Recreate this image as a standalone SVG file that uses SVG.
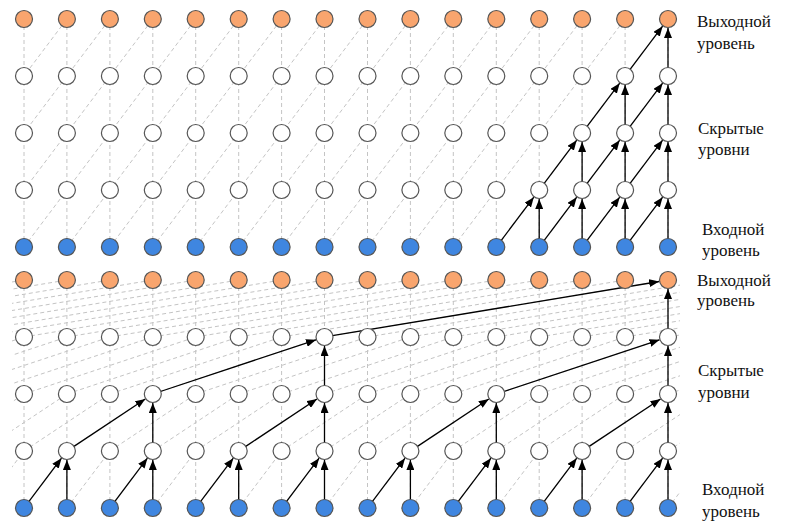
<svg xmlns="http://www.w3.org/2000/svg" width="800" height="531" viewBox="0 0 800 531">
<style>
.d{stroke:#c4c4c4;stroke-width:1;stroke-dasharray:4 3;fill:none}
.a{stroke:#000;stroke-width:1.3;fill:none;marker-end:url(#ah)}
.o{fill:#F9A56E;stroke:#555;stroke-width:1.2}
.h{fill:#fff;stroke:#555;stroke-width:1.2}
.i{fill:#3F86E0;stroke:#555;stroke-width:1.2}
.lb{font-family:"Liberation Serif","Times New Roman","DejaVu Serif",serif;font-size:17px;fill:#111}
</style>
<defs>
<marker id="ah" markerUnits="userSpaceOnUse" markerWidth="10" markerHeight="8" refX="10" refY="4" orient="auto"><path d="M0,0 L10,4 L0,8 z" fill="#000"/></marker>
<clipPath id="ct"><rect x="24" y="0" width="644" height="260"/></clipPath>
<clipPath id="cb"><rect x="12" y="270" width="668" height="250"/></clipPath>
</defs>
<g id="connectors">
<g id="dashed-top">
<path class="d" d="M24,19V247M66.9,19V247M109.9,19V247M152.8,19V247M195.7,19V247M238.7,19V247M281.6,19V247M324.5,19V247M367.5,19V247M410.4,19V247M453.3,19V247M496.3,19V247M539.2,19V247M582.1,19V247M625.1,19V247M668,19V247"/>
<path class="d" clip-path="url(#ct)" d="M-104.8,247l171.7,-228M-61.9,247l171.7,-228M-18.9,247l171.7,-228M24,247l171.7,-228M66.9,247l171.7,-228M109.9,247l171.7,-228M152.8,247l171.7,-228M195.7,247l171.7,-228M238.7,247l171.7,-228M281.6,247l171.7,-228M324.5,247l171.7,-228M367.5,247l171.7,-228M410.4,247l171.7,-228M453.3,247l171.7,-228M496.3,247l171.7,-228M539.2,247l171.7,-228M582.1,247l171.7,-228M625.1,247l171.7,-228"/>
</g>
<g id="dashed-bottom">
<path class="d" d="M24,280V508M66.9,280V508M109.9,280V508M152.8,280V508M195.7,280V508M238.7,280V508M281.6,280V508M324.5,280V508M367.5,280V508M410.4,280V508M453.3,280V508M496.3,280V508M539.2,280V508M582.1,280V508M625.1,280V508M668,280V508"/>
<path class="d" clip-path="url(#cb)" d="M-18.9,508l42.93,-57M24,508l42.93,-57M66.9,508l42.93,-57M109.9,508l42.93,-57M152.8,508l42.93,-57M195.7,508l42.93,-57M238.7,508l42.93,-57M281.6,508l42.93,-57M324.5,508l42.93,-57M367.5,508l42.93,-57M410.4,508l42.93,-57M453.3,508l42.93,-57M496.3,508l42.93,-57M539.2,508l42.93,-57M582.1,508l42.93,-57M625.1,508l42.93,-57M668,508l42.93,-57
M-61.9,451l85.87,-57M-18.9,451l85.87,-57M24,451l85.87,-57M66.9,451l85.87,-57M109.9,451l85.87,-57M152.8,451l85.87,-57M195.7,451l85.87,-57M238.7,451l85.87,-57M281.6,451l85.87,-57M324.5,451l85.87,-57M367.5,451l85.87,-57M410.4,451l85.87,-57M453.3,451l85.87,-57M496.3,451l85.87,-57M539.2,451l85.87,-57M582.1,451l85.87,-57M625.1,451l85.87,-57M668,451l85.87,-57
M-147.7,394l171.7,-57M-104.8,394l171.7,-57M-61.9,394l171.7,-57M-18.9,394l171.7,-57M24,394l171.7,-57M66.9,394l171.7,-57M109.9,394l171.7,-57M152.8,394l171.7,-57M195.7,394l171.7,-57M238.7,394l171.7,-57M281.6,394l171.7,-57M324.5,394l171.7,-57M367.5,394l171.7,-57M410.4,394l171.7,-57M453.3,394l171.7,-57M496.3,394l171.7,-57M539.2,394l171.7,-57M582.1,394l171.7,-57M625.1,394l171.7,-57M668,394l171.7,-57
M-319.5,337l343.5,-57M-276.5,337l343.5,-57M-233.6,337l343.5,-57M-190.7,337l343.5,-57M-147.7,337l343.5,-57M-104.8,337l343.5,-57M-61.9,337l343.5,-57M-18.9,337l343.5,-57M24,337l343.5,-57M66.9,337l343.5,-57M109.9,337l343.5,-57M152.8,337l343.5,-57M195.7,337l343.5,-57M238.7,337l343.5,-57M281.6,337l343.5,-57M324.5,337l343.5,-57M367.5,337l343.5,-57M410.4,337l343.5,-57M453.3,337l343.5,-57M496.3,337l343.5,-57M539.2,337l343.5,-57M582.1,337l343.5,-57M625.1,337l343.5,-57M668,337l343.5,-57"/>
</g>
<g id="arrows-top">
<path class="a" d="M501.1,240.6L533.8,197.2"/><path class="a" d="M544,240.6L576.7,197.2"/><path class="a" d="M586.9,240.6L619.7,197.2"/><path class="a" d="M629.9,240.6L662.6,197.2"/>
<path class="a" d="M539.2,239V199"/><path class="a" d="M582.1,239V199"/><path class="a" d="M625.1,239V199"/><path class="a" d="M668,239V199"/>
<path class="a" d="M544,183.6L576.7,140.2"/><path class="a" d="M586.9,183.6L619.7,140.2"/><path class="a" d="M629.9,183.6L662.6,140.2"/>
<path class="a" d="M582.1,182V142"/><path class="a" d="M625.1,182V142"/><path class="a" d="M668,182V142"/>
<path class="a" d="M586.9,126.6L619.7,83.2"/><path class="a" d="M629.9,126.6L662.6,83.2"/>
<path class="a" d="M625.1,125V85"/><path class="a" d="M668,125V85"/>
<path class="a" d="M629.9,69.6L662.6,26.2"/><path class="a" d="M668,68V28"/>
</g>
<g id="arrows-bottom">
<path class="a" d="M28.8,501.6L61.5,458.2"/><path class="a" d="M114.7,501.6L147.4,458.2"/><path class="a" d="M200.5,501.6L233.3,458.2"/><path class="a" d="M286.4,501.6L319.1,458.2"/><path class="a" d="M372.3,501.6L405,458.2"/><path class="a" d="M458.1,501.6L490.9,458.2"/><path class="a" d="M544,501.6L576.7,458.2"/><path class="a" d="M629.9,501.6L662.6,458.2"/>
<path class="a" d="M66.9,500V460"/><path class="a" d="M152.8,500V460"/><path class="a" d="M238.7,500V460"/><path class="a" d="M324.5,500V460"/><path class="a" d="M410.4,500V460"/><path class="a" d="M496.3,500V460"/><path class="a" d="M582.1,500V460"/><path class="a" d="M668,500V460"/>
<path class="a" d="M73.6,446.6L145.3,399"/><path class="a" d="M245.4,446.6L317,399"/><path class="a" d="M417.1,446.6L488.8,399"/><path class="a" d="M588.8,446.6L660.5,399"/>
<path class="a" d="M152.8,443V403"/><path class="a" d="M324.5,443V403"/><path class="a" d="M496.3,443V403"/><path class="a" d="M668,443V403"/>
<path class="a" d="M160.4,391.5L316,339.8"/><path class="a" d="M503.9,391.5L659.5,339.8"/>
<path class="a" d="M324.5,386V346"/><path class="a" d="M668,386V346"/>
<path class="a" d="M332.4,335.7L659.1,281.5"/><path class="a" d="M668,329V289"/>
</g>
</g>
<g id="nodes-top-output" class="o">
<circle id="t4_0" cx="24" cy="19" r="8.5"/><circle id="t4_1" cx="66.9" cy="19" r="8.5"/><circle id="t4_2" cx="109.9" cy="19" r="8.5"/><circle id="t4_3" cx="152.8" cy="19" r="8.5"/><circle id="t4_4" cx="195.7" cy="19" r="8.5"/><circle id="t4_5" cx="238.7" cy="19" r="8.5"/><circle id="t4_6" cx="281.6" cy="19" r="8.5"/><circle id="t4_7" cx="324.5" cy="19" r="8.5"/><circle id="t4_8" cx="367.5" cy="19" r="8.5"/><circle id="t4_9" cx="410.4" cy="19" r="8.5"/><circle id="t4_10" cx="453.3" cy="19" r="8.5"/><circle id="t4_11" cx="496.3" cy="19" r="8.5"/><circle id="t4_12" cx="539.2" cy="19" r="8.5"/><circle id="t4_13" cx="582.1" cy="19" r="8.5"/><circle id="t4_14" cx="625.1" cy="19" r="8.5"/><circle id="t4_15" cx="668" cy="19" r="8.5"/>
</g>
<g id="nodes-top-h3" class="h">
<circle id="t3_0" cx="24" cy="76" r="8.5"/><circle id="t3_1" cx="66.9" cy="76" r="8.5"/><circle id="t3_2" cx="109.9" cy="76" r="8.5"/><circle id="t3_3" cx="152.8" cy="76" r="8.5"/><circle id="t3_4" cx="195.7" cy="76" r="8.5"/><circle id="t3_5" cx="238.7" cy="76" r="8.5"/><circle id="t3_6" cx="281.6" cy="76" r="8.5"/><circle id="t3_7" cx="324.5" cy="76" r="8.5"/><circle id="t3_8" cx="367.5" cy="76" r="8.5"/><circle id="t3_9" cx="410.4" cy="76" r="8.5"/><circle id="t3_10" cx="453.3" cy="76" r="8.5"/><circle id="t3_11" cx="496.3" cy="76" r="8.5"/><circle id="t3_12" cx="539.2" cy="76" r="8.5"/><circle id="t3_13" cx="582.1" cy="76" r="8.5"/><circle id="t3_14" cx="625.1" cy="76" r="8.5"/><circle id="t3_15" cx="668" cy="76" r="8.5"/>
</g>
<g id="nodes-top-h2" class="h">
<circle id="t2_0" cx="24" cy="133" r="8.5"/><circle id="t2_1" cx="66.9" cy="133" r="8.5"/><circle id="t2_2" cx="109.9" cy="133" r="8.5"/><circle id="t2_3" cx="152.8" cy="133" r="8.5"/><circle id="t2_4" cx="195.7" cy="133" r="8.5"/><circle id="t2_5" cx="238.7" cy="133" r="8.5"/><circle id="t2_6" cx="281.6" cy="133" r="8.5"/><circle id="t2_7" cx="324.5" cy="133" r="8.5"/><circle id="t2_8" cx="367.5" cy="133" r="8.5"/><circle id="t2_9" cx="410.4" cy="133" r="8.5"/><circle id="t2_10" cx="453.3" cy="133" r="8.5"/><circle id="t2_11" cx="496.3" cy="133" r="8.5"/><circle id="t2_12" cx="539.2" cy="133" r="8.5"/><circle id="t2_13" cx="582.1" cy="133" r="8.5"/><circle id="t2_14" cx="625.1" cy="133" r="8.5"/><circle id="t2_15" cx="668" cy="133" r="8.5"/>
</g>
<g id="nodes-top-h1" class="h">
<circle id="t1_0" cx="24" cy="190" r="8.5"/><circle id="t1_1" cx="66.9" cy="190" r="8.5"/><circle id="t1_2" cx="109.9" cy="190" r="8.5"/><circle id="t1_3" cx="152.8" cy="190" r="8.5"/><circle id="t1_4" cx="195.7" cy="190" r="8.5"/><circle id="t1_5" cx="238.7" cy="190" r="8.5"/><circle id="t1_6" cx="281.6" cy="190" r="8.5"/><circle id="t1_7" cx="324.5" cy="190" r="8.5"/><circle id="t1_8" cx="367.5" cy="190" r="8.5"/><circle id="t1_9" cx="410.4" cy="190" r="8.5"/><circle id="t1_10" cx="453.3" cy="190" r="8.5"/><circle id="t1_11" cx="496.3" cy="190" r="8.5"/><circle id="t1_12" cx="539.2" cy="190" r="8.5"/><circle id="t1_13" cx="582.1" cy="190" r="8.5"/><circle id="t1_14" cx="625.1" cy="190" r="8.5"/><circle id="t1_15" cx="668" cy="190" r="8.5"/>
</g>
<g id="nodes-top-input" class="i">
<circle id="t0_0" cx="24" cy="247" r="8.5"/><circle id="t0_1" cx="66.9" cy="247" r="8.5"/><circle id="t0_2" cx="109.9" cy="247" r="8.5"/><circle id="t0_3" cx="152.8" cy="247" r="8.5"/><circle id="t0_4" cx="195.7" cy="247" r="8.5"/><circle id="t0_5" cx="238.7" cy="247" r="8.5"/><circle id="t0_6" cx="281.6" cy="247" r="8.5"/><circle id="t0_7" cx="324.5" cy="247" r="8.5"/><circle id="t0_8" cx="367.5" cy="247" r="8.5"/><circle id="t0_9" cx="410.4" cy="247" r="8.5"/><circle id="t0_10" cx="453.3" cy="247" r="8.5"/><circle id="t0_11" cx="496.3" cy="247" r="8.5"/><circle id="t0_12" cx="539.2" cy="247" r="8.5"/><circle id="t0_13" cx="582.1" cy="247" r="8.5"/><circle id="t0_14" cx="625.1" cy="247" r="8.5"/><circle id="t0_15" cx="668" cy="247" r="8.5"/>
</g>
<g id="nodes-bottom-output" class="o">
<circle id="b4_0" cx="24" cy="280" r="8.5"/><circle id="b4_1" cx="66.9" cy="280" r="8.5"/><circle id="b4_2" cx="109.9" cy="280" r="8.5"/><circle id="b4_3" cx="152.8" cy="280" r="8.5"/><circle id="b4_4" cx="195.7" cy="280" r="8.5"/><circle id="b4_5" cx="238.7" cy="280" r="8.5"/><circle id="b4_6" cx="281.6" cy="280" r="8.5"/><circle id="b4_7" cx="324.5" cy="280" r="8.5"/><circle id="b4_8" cx="367.5" cy="280" r="8.5"/><circle id="b4_9" cx="410.4" cy="280" r="8.5"/><circle id="b4_10" cx="453.3" cy="280" r="8.5"/><circle id="b4_11" cx="496.3" cy="280" r="8.5"/><circle id="b4_12" cx="539.2" cy="280" r="8.5"/><circle id="b4_13" cx="582.1" cy="280" r="8.5"/><circle id="b4_14" cx="625.1" cy="280" r="8.5"/><circle id="b4_15" cx="668" cy="280" r="8.5"/>
</g>
<g id="nodes-bottom-h3" class="h">
<circle id="b3_0" cx="24" cy="337" r="8.5"/><circle id="b3_1" cx="66.9" cy="337" r="8.5"/><circle id="b3_2" cx="109.9" cy="337" r="8.5"/><circle id="b3_3" cx="152.8" cy="337" r="8.5"/><circle id="b3_4" cx="195.7" cy="337" r="8.5"/><circle id="b3_5" cx="238.7" cy="337" r="8.5"/><circle id="b3_6" cx="281.6" cy="337" r="8.5"/><circle id="b3_7" cx="324.5" cy="337" r="8.5"/><circle id="b3_8" cx="367.5" cy="337" r="8.5"/><circle id="b3_9" cx="410.4" cy="337" r="8.5"/><circle id="b3_10" cx="453.3" cy="337" r="8.5"/><circle id="b3_11" cx="496.3" cy="337" r="8.5"/><circle id="b3_12" cx="539.2" cy="337" r="8.5"/><circle id="b3_13" cx="582.1" cy="337" r="8.5"/><circle id="b3_14" cx="625.1" cy="337" r="8.5"/><circle id="b3_15" cx="668" cy="337" r="8.5"/>
</g>
<g id="nodes-bottom-h2" class="h">
<circle id="b2_0" cx="24" cy="394" r="8.5"/><circle id="b2_1" cx="66.9" cy="394" r="8.5"/><circle id="b2_2" cx="109.9" cy="394" r="8.5"/><circle id="b2_3" cx="152.8" cy="394" r="8.5"/><circle id="b2_4" cx="195.7" cy="394" r="8.5"/><circle id="b2_5" cx="238.7" cy="394" r="8.5"/><circle id="b2_6" cx="281.6" cy="394" r="8.5"/><circle id="b2_7" cx="324.5" cy="394" r="8.5"/><circle id="b2_8" cx="367.5" cy="394" r="8.5"/><circle id="b2_9" cx="410.4" cy="394" r="8.5"/><circle id="b2_10" cx="453.3" cy="394" r="8.5"/><circle id="b2_11" cx="496.3" cy="394" r="8.5"/><circle id="b2_12" cx="539.2" cy="394" r="8.5"/><circle id="b2_13" cx="582.1" cy="394" r="8.5"/><circle id="b2_14" cx="625.1" cy="394" r="8.5"/><circle id="b2_15" cx="668" cy="394" r="8.5"/>
</g>
<g id="nodes-bottom-h1" class="h">
<circle id="b1_0" cx="24" cy="451" r="8.5"/><circle id="b1_1" cx="66.9" cy="451" r="8.5"/><circle id="b1_2" cx="109.9" cy="451" r="8.5"/><circle id="b1_3" cx="152.8" cy="451" r="8.5"/><circle id="b1_4" cx="195.7" cy="451" r="8.5"/><circle id="b1_5" cx="238.7" cy="451" r="8.5"/><circle id="b1_6" cx="281.6" cy="451" r="8.5"/><circle id="b1_7" cx="324.5" cy="451" r="8.5"/><circle id="b1_8" cx="367.5" cy="451" r="8.5"/><circle id="b1_9" cx="410.4" cy="451" r="8.5"/><circle id="b1_10" cx="453.3" cy="451" r="8.5"/><circle id="b1_11" cx="496.3" cy="451" r="8.5"/><circle id="b1_12" cx="539.2" cy="451" r="8.5"/><circle id="b1_13" cx="582.1" cy="451" r="8.5"/><circle id="b1_14" cx="625.1" cy="451" r="8.5"/><circle id="b1_15" cx="668" cy="451" r="8.5"/>
</g>
<g id="nodes-bottom-input" class="i">
<circle id="b0_0" cx="24" cy="508" r="8.5"/><circle id="b0_1" cx="66.9" cy="508" r="8.5"/><circle id="b0_2" cx="109.9" cy="508" r="8.5"/><circle id="b0_3" cx="152.8" cy="508" r="8.5"/><circle id="b0_4" cx="195.7" cy="508" r="8.5"/><circle id="b0_5" cx="238.7" cy="508" r="8.5"/><circle id="b0_6" cx="281.6" cy="508" r="8.5"/><circle id="b0_7" cx="324.5" cy="508" r="8.5"/><circle id="b0_8" cx="367.5" cy="508" r="8.5"/><circle id="b0_9" cx="410.4" cy="508" r="8.5"/><circle id="b0_10" cx="453.3" cy="508" r="8.5"/><circle id="b0_11" cx="496.3" cy="508" r="8.5"/><circle id="b0_12" cx="539.2" cy="508" r="8.5"/><circle id="b0_13" cx="582.1" cy="508" r="8.5"/><circle id="b0_14" cx="625.1" cy="508" r="8.5"/><circle id="b0_15" cx="668" cy="508" r="8.5"/>
</g>
<g id="labels" class="lb">
<text class="lb" x="697" y="27">Выходной</text><text class="lb" x="697" y="49">уровень</text>
<text class="lb" x="698" y="134">Скрытые</text><text class="lb" x="698" y="155">уровни</text>
<text class="lb" x="702" y="235">Входной</text><text class="lb" x="702" y="256">уровень</text>
<text class="lb" x="697" y="286">Выходной</text><text class="lb" x="697" y="306">уровень</text>
<text class="lb" x="698" y="376">Скрытые</text><text class="lb" x="698" y="398">уровни</text>
<text class="lb" x="702" y="495">Входной</text><text class="lb" x="702" y="517">уровень</text>
</g>
</svg>
